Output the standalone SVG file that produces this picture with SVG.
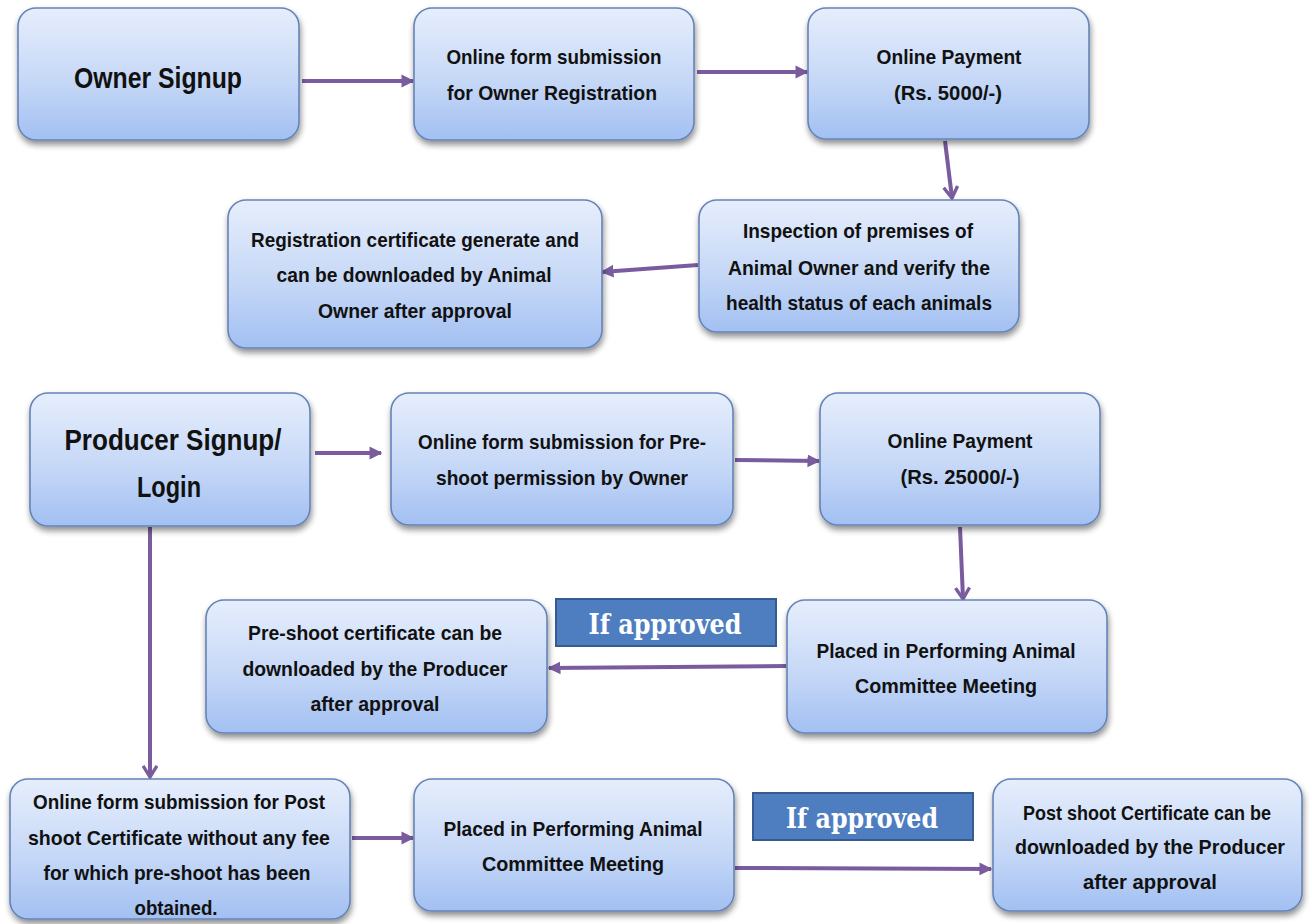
<svg xmlns="http://www.w3.org/2000/svg" width="1312" height="924" viewBox="0 0 1312 924">
<defs>
<linearGradient id="g" x1="0" y1="0" x2="0" y2="1">
<stop offset="0" stop-color="#e6eefc"/>
<stop offset="0.55" stop-color="#c6d8f7"/>
<stop offset="1" stop-color="#a2c0f2"/>
</linearGradient>
<filter id="sh" x="-10%" y="-10%" width="120%" height="130%">
<feGaussianBlur in="SourceAlpha" stdDeviation="3"/>
<feOffset dx="1" dy="4" result="b"/>
<feComponentTransfer><feFuncA type="linear" slope="0.45"/></feComponentTransfer>
<feMerge><feMergeNode/><feMergeNode in="SourceGraphic"/></feMerge>
</filter>
<marker id="ah" viewBox="0 0 10 10" refX="9" refY="5" markerWidth="3.2" markerHeight="3.4" orient="auto" markerUnits="strokeWidth">
<path d="M0,0 L10,5 L0,10 Z" fill="#7a5c9e"/>
</marker>
<marker id="av" viewBox="0 0 12 12" refX="10" refY="6" markerWidth="4.2" markerHeight="4.2" orient="auto" markerUnits="strokeWidth">
<path d="M2,1 L10,6 L2,11" fill="none" stroke="#7a5c9e" stroke-width="2.4"/>
</marker>
</defs>
<style>
.box{fill:url(#g);stroke:#6583b8;stroke-width:1.6;filter:url(#sh)}
.t{font-family:"Liberation Sans Narrow","Liberation Sans",Arial,sans-serif;font-weight:bold;font-size:21px;fill:#111;text-anchor:middle}
.big{font-size:30px}
.lab{fill:#4e7ebf;stroke:#355b91;stroke-width:2}
.lt{font-family:"DejaVu Serif","Liberation Serif",serif;font-weight:bold;font-size:28px;fill:#fff;text-anchor:middle}
.c{stroke:#7a5c9e;stroke-width:4;fill:none}
</style>

<g id="connectors">
<line class="c" x1="302" y1="81" x2="413" y2="81" marker-end="url(#ah)"/>
<line class="c" x1="697" y1="72" x2="807" y2="72" marker-end="url(#ah)"/>
<line class="c" x1="945" y1="141" x2="952" y2="198" marker-end="url(#av)"/>
<line class="c" x1="698" y1="265" x2="602" y2="272" marker-end="url(#ah)"/>
<line class="c" x1="315" y1="453" x2="381" y2="453" marker-end="url(#ah)"/>
<line class="c" x1="735" y1="460" x2="819" y2="461" marker-end="url(#ah)"/>
<line class="c" x1="960" y1="527" x2="963" y2="599" marker-end="url(#av)"/>
<line class="c" x1="786" y1="666" x2="549" y2="668" marker-end="url(#ah)"/>
<line class="c" x1="150" y1="527" x2="150" y2="777" marker-end="url(#av)"/>
<line class="c" x1="352" y1="838" x2="413" y2="838" marker-end="url(#ah)"/>
<line class="c" x1="735" y1="868" x2="991" y2="869" marker-end="url(#ah)"/>
</g>

<g id="n-owner-signup">
<rect class="box" x="18" y="8" width="281" height="132" rx="18"/>
<text class="t big" x="158" y="88" textLength="168" lengthAdjust="spacingAndGlyphs">Owner Signup</text>
</g>
<g id="n-owner-form">
<rect class="box" x="414" y="8" width="280" height="132" rx="18"/>
<text class="t" x="554" y="64" textLength="215" lengthAdjust="spacingAndGlyphs">Online form submission</text>
<text class="t" x="552" y="100" textLength="210" lengthAdjust="spacingAndGlyphs">for Owner Registration</text>
</g>
<g id="n-owner-pay">
<rect class="box" x="808" y="8" width="281" height="131" rx="18"/>
<text class="t" x="949" y="64" textLength="145" lengthAdjust="spacingAndGlyphs">Online Payment</text>
<text class="t" x="948" y="100" textLength="108" lengthAdjust="spacingAndGlyphs">(Rs. 5000/-)</text>
</g>
<g id="n-inspection">
<rect class="box" x="699" y="200" width="320" height="132" rx="18"/>
<text class="t" x="858" y="238" textLength="230" lengthAdjust="spacingAndGlyphs">Inspection of premises of</text>
<text class="t" x="859" y="275" textLength="262" lengthAdjust="spacingAndGlyphs">Animal Owner and verify the</text>
<text class="t" x="859" y="310" textLength="266" lengthAdjust="spacingAndGlyphs">health status of each animals</text>
</g>
<g id="n-reg-cert">
<rect class="box" x="228" y="200" width="374" height="148" rx="18"/>
<text class="t" x="415" y="247" textLength="328" lengthAdjust="spacingAndGlyphs">Registration certificate generate and</text>
<text class="t" x="414" y="282" textLength="275" lengthAdjust="spacingAndGlyphs">can be downloaded by Animal</text>
<text class="t" x="415" y="318" textLength="194" lengthAdjust="spacingAndGlyphs">Owner after approval</text>
</g>
<g id="n-producer">
<rect class="box" x="30" y="393" width="280" height="133" rx="18"/>
<text class="t big" x="173" y="450" textLength="217" lengthAdjust="spacingAndGlyphs">Producer Signup/</text>
<text class="t big" x="169" y="497" textLength="64" lengthAdjust="spacingAndGlyphs">Login</text>
</g>
<g id="n-pre-form">
<rect class="box" x="391" y="393" width="342" height="132" rx="18"/>
<text class="t" x="562" y="449" textLength="288" lengthAdjust="spacingAndGlyphs">Online form submission for Pre-</text>
<text class="t" x="562" y="485" textLength="252" lengthAdjust="spacingAndGlyphs">shoot permission by Owner</text>
</g>
<g id="n-pre-pay">
<rect class="box" x="820" y="393" width="280" height="132" rx="18"/>
<text class="t" x="960" y="448" textLength="145" lengthAdjust="spacingAndGlyphs">Online Payment</text>
<text class="t" x="960" y="484" textLength="119" lengthAdjust="spacingAndGlyphs">(Rs. 25000/-)</text>
</g>
<g id="n-committee-1">
<rect class="box" x="787" y="600" width="320" height="133" rx="18"/>
<text class="t" x="946" y="658" textLength="259" lengthAdjust="spacingAndGlyphs">Placed in Performing Animal</text>
<text class="t" x="946" y="693" textLength="182" lengthAdjust="spacingAndGlyphs">Committee Meeting</text>
</g>
<g id="n-pre-cert">
<rect class="box" x="206" y="600" width="341" height="133" rx="18"/>
<text class="t" x="375" y="640" textLength="254" lengthAdjust="spacingAndGlyphs">Pre-shoot certificate can be</text>
<text class="t" x="375" y="676" textLength="265" lengthAdjust="spacingAndGlyphs">downloaded by the Producer</text>
<text class="t" x="375" y="711" textLength="129" lengthAdjust="spacingAndGlyphs">after approval</text>
</g>
<g id="n-post-form">
<rect class="box" x="10" y="779" width="340" height="140" rx="18"/>
<text class="t" x="179" y="809" textLength="292" lengthAdjust="spacingAndGlyphs">Online form submission for Post</text>
<text class="t" x="179" y="845" textLength="302" lengthAdjust="spacingAndGlyphs">shoot Certificate without any fee</text>
<text class="t" x="177" y="880" textLength="267" lengthAdjust="spacingAndGlyphs">for which pre-shoot has been</text>
<text class="t" x="176" y="915" textLength="83" lengthAdjust="spacingAndGlyphs">obtained.</text>
</g>
<g id="n-committee-2">
<rect class="box" x="414" y="779" width="320" height="132" rx="18"/>
<text class="t" x="573" y="836" textLength="259" lengthAdjust="spacingAndGlyphs">Placed in Performing Animal</text>
<text class="t" x="573" y="871" textLength="182" lengthAdjust="spacingAndGlyphs">Committee Meeting</text>
</g>
<g id="n-post-cert">
<rect class="box" x="993" y="779" width="309" height="132" rx="18"/>
<text class="t" x="1147" y="820" textLength="248" lengthAdjust="spacingAndGlyphs">Post shoot Certificate can be</text>
<text class="t" x="1150" y="854" textLength="270" lengthAdjust="spacingAndGlyphs">downloaded by the Producer</text>
<text class="t" x="1150" y="889" textLength="134" lengthAdjust="spacingAndGlyphs">after approval</text>
</g>
<g id="label-approved-1">
<rect class="lab" x="556" y="599" width="220" height="47"/>
<text class="lt" x="665" y="634" textLength="153" lengthAdjust="spacingAndGlyphs">If approved</text>
</g>
<g id="label-approved-2">
<rect class="lab" x="753" y="793" width="220" height="47"/>
<text class="lt" x="862" y="828" textLength="152" lengthAdjust="spacingAndGlyphs">If approved</text>
</g>
</svg>
